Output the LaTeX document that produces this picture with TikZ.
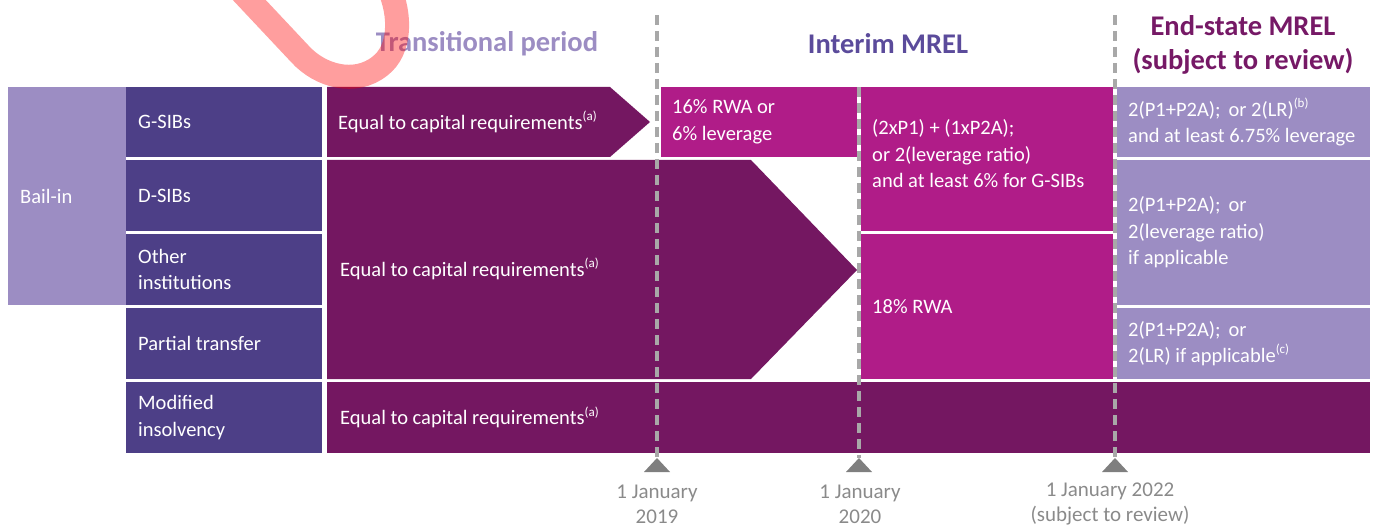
\documentclass[tikz,border=0pt]{standalone}
\usepackage{fontspec}
\setmainfont{Carlito}
\definecolor{indigo}{HTML}{4D3F87}
\definecolor{lilac}{HTML}{9C8DC3}
\definecolor{plum}{HTML}{741761}
\definecolor{magentab}{HTML}{B01C88}
\definecolor{intc}{HTML}{5B4B9B}
\definecolor{endc}{HTML}{761966}
\definecolor{dashc}{HTML}{A8A8A8}
\definecolor{tric}{HTML}{7F7F7F}
\definecolor{datec}{HTML}{8A8A8A}
\newcommand\supnote[1]{\raisebox{0.42em}{\fontsize{13}{13}\selectfont(#1)}}
\begin{document}
\begin{tikzpicture}[x=1pt,y=-1pt,
  box/.style={anchor=north west, inner sep=0pt, outer sep=0pt},
  txt/.style={text=white, font=\fontsize{20.5}{26.5}\selectfont, align=left, inner sep=0pt, anchor=west},
  ttl/.style={font=\bfseries\fontsize{28.5}{34}\selectfont, align=center, inner sep=0pt},
  date/.style={text=datec, font=\fontsize{21}{25}\selectfont, align=center, inner sep=0pt},
  timeline/.style={dashc, line width=3.2pt, dash pattern=on 10pt off 6pt},
  marker/.style={fill=tric}]
\useasboundingbox (0,0) rectangle (1380,526);

% left column
\node[box, fill=lilac, minimum width=118, minimum height=218] (bail) at (8,87) {};
\node[txt] at ([xshift=12]bail.west) {Bail-in};
\node[box, fill=indigo, minimum width=196, minimum height=70] (gsib) at (126,87) {};
\node[box, fill=indigo, minimum width=196, minimum height=71] (dsib) at (126,160) {};
\node[box, fill=indigo, minimum width=196, minimum height=71] (other) at (126,234) {};
\node[box, fill=indigo, minimum width=196, minimum height=71] (partial) at (126,308) {};
\node[box, fill=indigo, minimum width=196, minimum height=71] (modif) at (126,382) {};
\node[txt] at ([xshift=12]gsib.west) {G-SIBs};
\node[txt] at ([xshift=12]dsib.west) {D-SIBs};
\node[txt] at ([xshift=12]other.west) {Other\\institutions};
\node[txt] at ([xshift=12]partial.west) {Partial transfer};
\node[txt] at ([xshift=12]modif.west) {Modified\\insolvency};

% transitional arrows
\fill[plum] (327,87) -- (610,87) -- (650,122) -- (610,157) -- (327,157) -- cycle;
\coordinate (ga) at (327,122);
\node[txt] at ([xshift=11]ga) {Equal to capital requirements\supnote{a}};
\fill[plum] (327,160) -- (751,160) -- (857,270) -- (751,379) -- (327,379) -- cycle;
\coordinate (ba) at (327,269);
\node[txt] at ([xshift=13]ba) {Equal to capital requirements\supnote{a}};
\node[box, fill=plum, minimum width=1043, minimum height=71] (mbar) at (327,382) {};
\node[txt] at ([xshift=13]mbar.west) {Equal to capital requirements\supnote{a}};

% interim
\node[box, fill=magentab, minimum width=196, minimum height=70] (rwa16) at (661,87) {};
\node[txt] at ([xshift=11]rwa16.west) {16\% RWA or\\6\% leverage};
\node[box, fill=magentab, minimum width=252, minimum height=144] (int1) at (861,87) {};
\node[txt] at ([xshift=11,yshift=5]int1.west) {(2xP1) + (1xP2A);\\or 2(leverage ratio)\\and at least 6\% for G-SIBs};
\node[box, fill=magentab, minimum width=252, minimum height=145] (int2) at (861,234) {};
\node[txt] at ([xshift=11]int2.west) {18\% RWA};

% end-state
\node[box, fill=lilac, minimum width=253, minimum height=70] (end1) at (1117,87) {};
\node[txt] at ([xshift=11]end1.west) {2(P1+P2A);\, or 2(LR)\supnote{b}\\and at least 6.75\% leverage};
\node[box, fill=lilac, minimum width=253, minimum height=145] (end2) at (1117,160) {};
\node[txt] at ([xshift=11]end2.west) {2(P1+P2A);\, or\\2(leverage ratio)\\if applicable};
\node[box, fill=lilac, minimum width=253, minimum height=71] (end3) at (1117,308) {};
\node[txt] at ([xshift=11]end3.west) {2(P1+P2A);\, or\\2(LR) if applicable\supnote{c}};

% titles
\node[ttl, text=lilac] (t1) at (487,44) {Transitional period};
\node[ttl, text=intc] (t2) at (888,44) {Interim MREL};
\node[ttl, text=endc] (t3) at (1243,45) {End-state MREL\\(subject to review)};

% timelines
\coordinate (d1t) at (657,15); \coordinate (d1b) at (657,458);
\coordinate (d2t) at (859,87); \coordinate (d2b) at (859,458);
\coordinate (d3t) at (1115,15); \coordinate (d3b) at (1115,458);
\draw[timeline] (d1t) -- (d1b);
\draw[timeline] (d2t) -- (d2b);
\draw[timeline] (d3t) -- (d3b);
\fill[marker] (d1b) -- ++(13,14) -- ++(-26,0) -- cycle;
\fill[marker] (d2b) -- ++(13,14) -- ++(-26,0) -- cycle;
\fill[marker] (d3b) -- ++(13,14) -- ++(-26,0) -- cycle;
\node[date] (l1) at (657,504) {1 January\\2019};
\node[date] (l2) at (860,504) {1 January\\2020};
\node[date] (l3) at (1110,504) {1 January 2022\\(subject to review)};

% overlay stroke
\begin{scope}
\clip (0,0) rectangle (1380,526);
\draw[red, opacity=0.38, line width=24pt] (238,-12) -- (300,54) .. controls (320,76) and (355,86) .. (380,66) .. controls (401,50) and (401,15) .. (389,-12);
\end{scope}
\end{tikzpicture}
\end{document}
